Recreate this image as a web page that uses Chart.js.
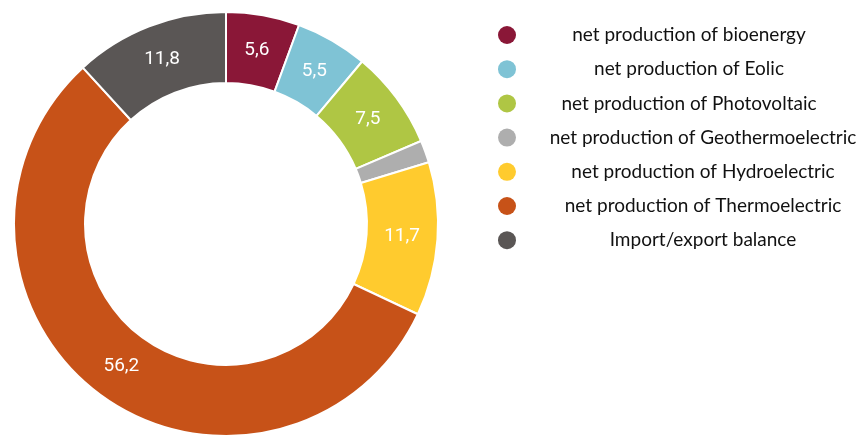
<!DOCTYPE html>
<html>
<head>
<meta charset="utf-8">
<script src="https://cdn.jsdelivr.net/npm/chart.js@4/dist/chart.umd.min.js"></script>
<style>
    html, body { margin: 0; padding: 0; background: #fff; }
    #wrap { width: 862px; height: 439px; position: relative; }
</style>
</head>
<body>
<div id="wrap"><canvas id="energyChart"></canvas></div>
<script>
// Electricity mix shares (%)
const labels = [
    'net production of bioenergy',
    'net production of Eolic',
    'net production of Photovoltaic',
    'net production of Geothermoelectric',
    'net production of Hydroelectric',
    'net production of Thermoelectric',
    'Import/export balance'
];
const shares = [5.6, 5.5, 7.5, 1.7, 11.7, 56.2, 11.8];
const colors = ['#8a1737', '#7fc3d5', '#afc644', '#aeaeae', '#ffcb2e', '#c75218', '#5a5655'];

// values under this are too thin to carry a label
const MIN_LABEL = 2;

const sliceLabels = {
    id: 'sliceLabels',
    afterDatasetsDraw(chart) {
        const ctx = chart.ctx;
        const meta = chart.getDatasetMeta(0);
        ctx.save();
        ctx.fillStyle = '#ffffff';
        ctx.font = '19px Roboto';
        ctx.textAlign = 'center';
        ctx.textBaseline = 'middle';
        meta.data.forEach((arc, i) => {
            const v = chart.data.datasets[0].data[i];
            if (v < MIN_LABEL) return;
            const p = arc.getCenterPoint();
            ctx.fillText(v.toFixed(1).replace('.', ','), p.x, p.y);
        });
        ctx.restore();
    }
};

// legend on the right: dot column on the left, text centred in its own column
// (the lower rows sit a little further right)
const sideLegend = {
    id: 'sideLegend',
    afterDraw(chart) {
        const ctx = chart.ctx;
        const dotX = 507, top = 35, step = 34.2;
        ctx.save();
        ctx.font = '19px Lato';
        ctx.textAlign = 'center';
        ctx.textBaseline = 'middle';
        chart.data.labels.forEach((lbl, i) => {
            const y = top + i * step;
            const textX = i < 3 ? 689 : 703;
            ctx.beginPath();
            ctx.arc(dotX, y, 9, 0, Math.PI * 2);
            ctx.fillStyle = chart.data.datasets[0].backgroundColor[i];
            ctx.fill();
            ctx.fillStyle = '#111111';
            ctx.fillText(lbl, textX, y);
        });
        ctx.restore();
    }
};

document.addEventListener('DOMContentLoaded', () => {
    const el = document.getElementById('energyChart');
    new Chart(el, {
        type: 'doughnut',
        data: {
            labels: labels,
            datasets: [{
                data: shares,
                backgroundColor: colors,
                borderColor: '#ffffff',
                borderWidth: 2
            }]
        },
        options: {
            responsive: true,
            maintainAspectRatio: false,
            animation: false,
            cutout: '66.5%',
            layout: {
                padding: { left: 13, top: 11, right: 423, bottom: 2 }
            },
            plugins: {
                legend: { display: false },
                tooltip: { enabled: false }
            }
        },
        plugins: [sliceLabels, sideLegend]
    });
});
</script>
</body>
</html>
